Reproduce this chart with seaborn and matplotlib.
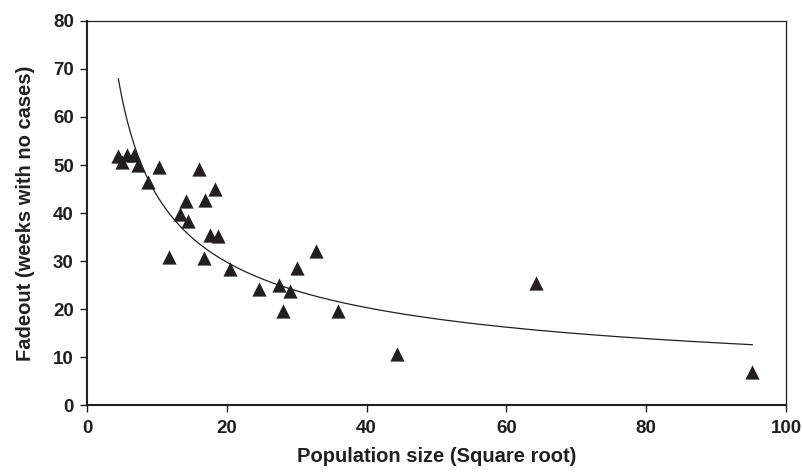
import numpy as np
import pandas as pd
import matplotlib
matplotlib.use("Agg")
import matplotlib.pyplot as plt
import seaborn as sns

# Data
pop_sqrt = [4.48, 5.68, 6.77, 4.96, 7.34, 10.26, 16.07, 8.77, 18.3, 14.16,
            16.9, 13.3, 14.5, 17.6, 18.7, 11.8, 16.7, 20.5, 32.8, 30.0,
            24.65, 27.5, 29.1, 28.0, 35.95, 44.3, 64.2, 95.2]
fadeout = [51.9, 52.1, 52.1, 50.7, 50.0, 49.6, 49.1, 46.5, 45.1, 42.6,
           42.7, 39.8, 38.3, 35.4, 35.3, 30.8, 30.6, 28.3, 32.1, 28.5,
           24.1, 25.0, 23.75, 19.6, 19.6, 10.6, 25.4, 6.9]
x_ticks = [0, 20, 40, 60, 80, 100]
y_ticks = [0, 10, 20, 30, 40, 50, 60, 70, 80]
x_label = "Population size (Square root)"
y_label = "Fadeout (weeks with no cases)"

df = pd.DataFrame({"x": pop_sqrt, "y": fadeout})

# Power-law trendline fitted to the data (log-log least squares)
b, log_a = np.polyfit(np.log(df["x"]), np.log(df["y"]), 1)
xf = np.linspace(df["x"].min(), df["x"].max(), 300)
fit = pd.DataFrame({"x": xf, "y": np.exp(log_a) * xf ** b})

sns.set_style("ticks")
plt.rcParams["font.family"] = ["Liberation Sans", "DejaVu Sans"]

ink = "#231f20"
fig = plt.figure(figsize=(8.03, 4.74), dpi=100)
ax = fig.add_axes([87 / 803, 1 - 405 / 474, (786 - 87) / 803, (405 - 21) / 474])

sns.lineplot(data=fit, x="x", y="y", ax=ax, color=ink, linewidth=0.9)
sns.scatterplot(data=df, x="x", y="y", ax=ax, marker="^", s=105,
                color=ink, edgecolor=ink, linewidth=0, zorder=3)

ax.set_xlim(0, 100)
ax.set_ylim(0, 80)
ax.set_xticks(x_ticks)
ax.set_yticks(y_ticks)
ax.set_xlabel(x_label, fontsize=14.5, fontweight="bold", color=ink, labelpad=7)
ax.set_ylabel(y_label, fontsize=14.5, fontweight="bold", color=ink, labelpad=13)
for lab in ax.get_xticklabels() + ax.get_yticklabels():
    lab.set_fontweight("bold")
ax.tick_params(axis="both", labelsize=13.5, colors=ink, direction="out")
ax.tick_params(axis="x", length=5, width=1.0, pad=6)
ax.tick_params(axis="y", length=5, width=1.0, pad=4.5)

for side in ["left", "bottom"]:
    ax.spines[side].set_linewidth(1.5)
    ax.spines[side].set_color(ink)
for side in ["top", "right"]:
    ax.spines[side].set_visible(True)
    ax.spines[side].set_linewidth(0.9)
    ax.spines[side].set_color(ink)

fig.savefig("out.png", dpi=100)
